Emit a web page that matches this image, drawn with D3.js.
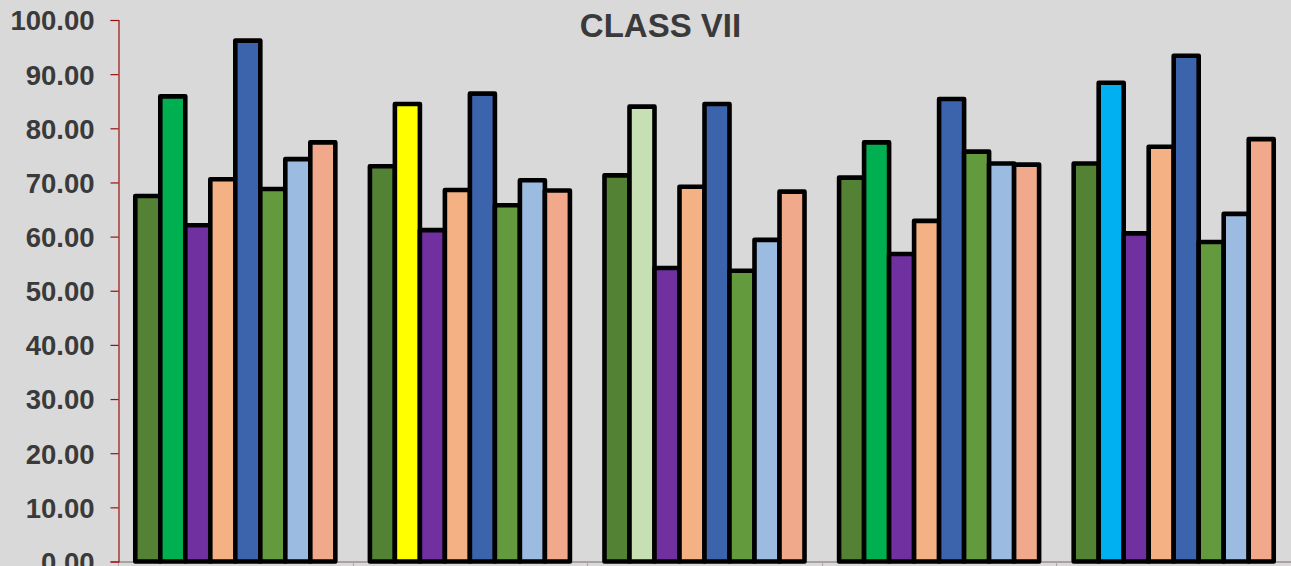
<!DOCTYPE html>
<html>
<head>
<meta charset="utf-8">
<script src="https://cdn.jsdelivr.net/npm/d3@7"></script>
<style>
  html, body { margin: 0; padding: 0; background: #d9d9d9; }
  svg { display: block; }
</style>
</head>
<body>
<svg id="chart" width="1291" height="566"></svg>
<script>
const title = "CLASS VII";
const categories = ["G1", "G2", "G3", "G4", "G5"];
const series = ["S1", "S2", "S3", "S4", "S5", "S6", "S7", "S8"];
const values = [
  [67.5, 85.9, 62.1, 70.6, 96.2, 68.8, 74.3, 77.4],
  [73.0, 84.5, 61.2, 68.6, 86.4, 65.8, 70.4, 68.5],
  [71.3, 84.0, 54.2, 69.2, 84.5, 53.7, 59.4, 68.3],
  [70.9, 77.4, 56.8, 62.9, 85.4, 75.7, 73.5, 73.3],
  [73.5, 88.4, 60.6, 76.6, 93.4, 59.0, 64.2, 78.0]
];
const seriesColors = ["#548235", "#00b050", "#7030a0", "#f4b183", "#3b64ad", "#639a3d", "#9bbbe0", "#f0a98b"];
const secondBarColors = ["#00b050", "#ffff00", "#c6e0b4", "#00b050", "#00b0f0"];
const yTicks = [0, 10, 20, 30, 40, 50, 60, 70, 80, 90, 100];

const svg = d3.select("#chart");
const W = 1291, H = 566;
const plot = { left: 118, right: 1291, top: 20, bottom: 561.5 };

const y = d3.scaleLinear().domain([0, 100]).range([plot.bottom, plot.top]);
const x0 = d3.scaleBand().domain(categories).range([plot.left, plot.right]).padding(0);
const bw = x0.bandwidth();
const pad = bw * 0.0737;
const x1 = d3.scaleBand().domain(series).range([pad, bw - pad]).padding(0);

// background
svg.append("rect").attr("width", W).attr("height", H).attr("fill", "#d9d9d9");

// title
svg.append("text")
  .attr("x", 660.5).attr("y", 37)
  .attr("text-anchor", "middle")
  .attr("font-family", "Liberation Sans, Arial, sans-serif")
  .attr("font-weight", "bold")
  .attr("font-size", 33)
  .attr("fill", "#3a3a3a")
  .text(title);

// x axis line + ticks
const xAxisG = svg.append("g");
xAxisG.append("line")
  .attr("x1", plot.left).attr("x2", plot.right)
  .attr("y1", plot.bottom + 0.5).attr("y2", plot.bottom + 0.5)
  .attr("stroke", "#9a8f8f").attr("stroke-width", 1.5);
const boundaries = categories.map(c => x0(c)).concat([x0(categories[categories.length - 1]) + bw]);
xAxisG.selectAll("line.tick").data(boundaries).join("line")
  .attr("class", "tick")
  .attr("x1", d => Math.round(d) + 0.5).attr("x2", d => Math.round(d) + 0.5)
  .attr("y1", plot.bottom).attr("y2", H)
  .attr("stroke", "#a8a8a8").attr("stroke-width", 1);

// bars
const groups = svg.append("g").selectAll("g")
  .data(values.map((row, gi) => ({ cat: categories[gi], gi, row })))
  .join("g")
  .attr("transform", d => `translate(${x0(d.cat)},0)`);

groups.selectAll("rect")
  .data(d => d.row.map((v, si) => ({ v, si, gi: d.gi })))
  .join("rect")
  .attr("x", d => x1(series[d.si]))
  .attr("width", x1.bandwidth())
  .attr("y", d => y(d.v))
  .attr("height", d => y(0) - y(d.v))
  .attr("fill", d => d.si === 1 ? secondBarColors[d.gi] : seriesColors[d.si])
  .attr("stroke", "#000")
  .attr("stroke-width", 4.6)
  .attr("stroke-linejoin", "round");

// y axis
const yAxis = d3.axisLeft(y).tickValues(yTicks).tickSize(8).tickPadding(16)
  .tickFormat(d3.format(".2f"));
const yg = svg.append("g").attr("transform", `translate(${plot.left + 0.5},0)`).call(yAxis);
yg.select(".domain").attr("stroke", "#9a1010").attr("stroke-width", 1.2);
yg.selectAll(".tick line").attr("stroke", "#9a1010").attr("stroke-width", 1.2);
yg.selectAll(".tick text")
  .attr("font-family", "Liberation Sans, Arial, sans-serif")
  .attr("font-weight", "bold")
  .attr("font-size", 27.5)
  .attr("fill", "#3a3a3a")
  .attr("dy", "0.36em");
</script>
</body>
</html>
